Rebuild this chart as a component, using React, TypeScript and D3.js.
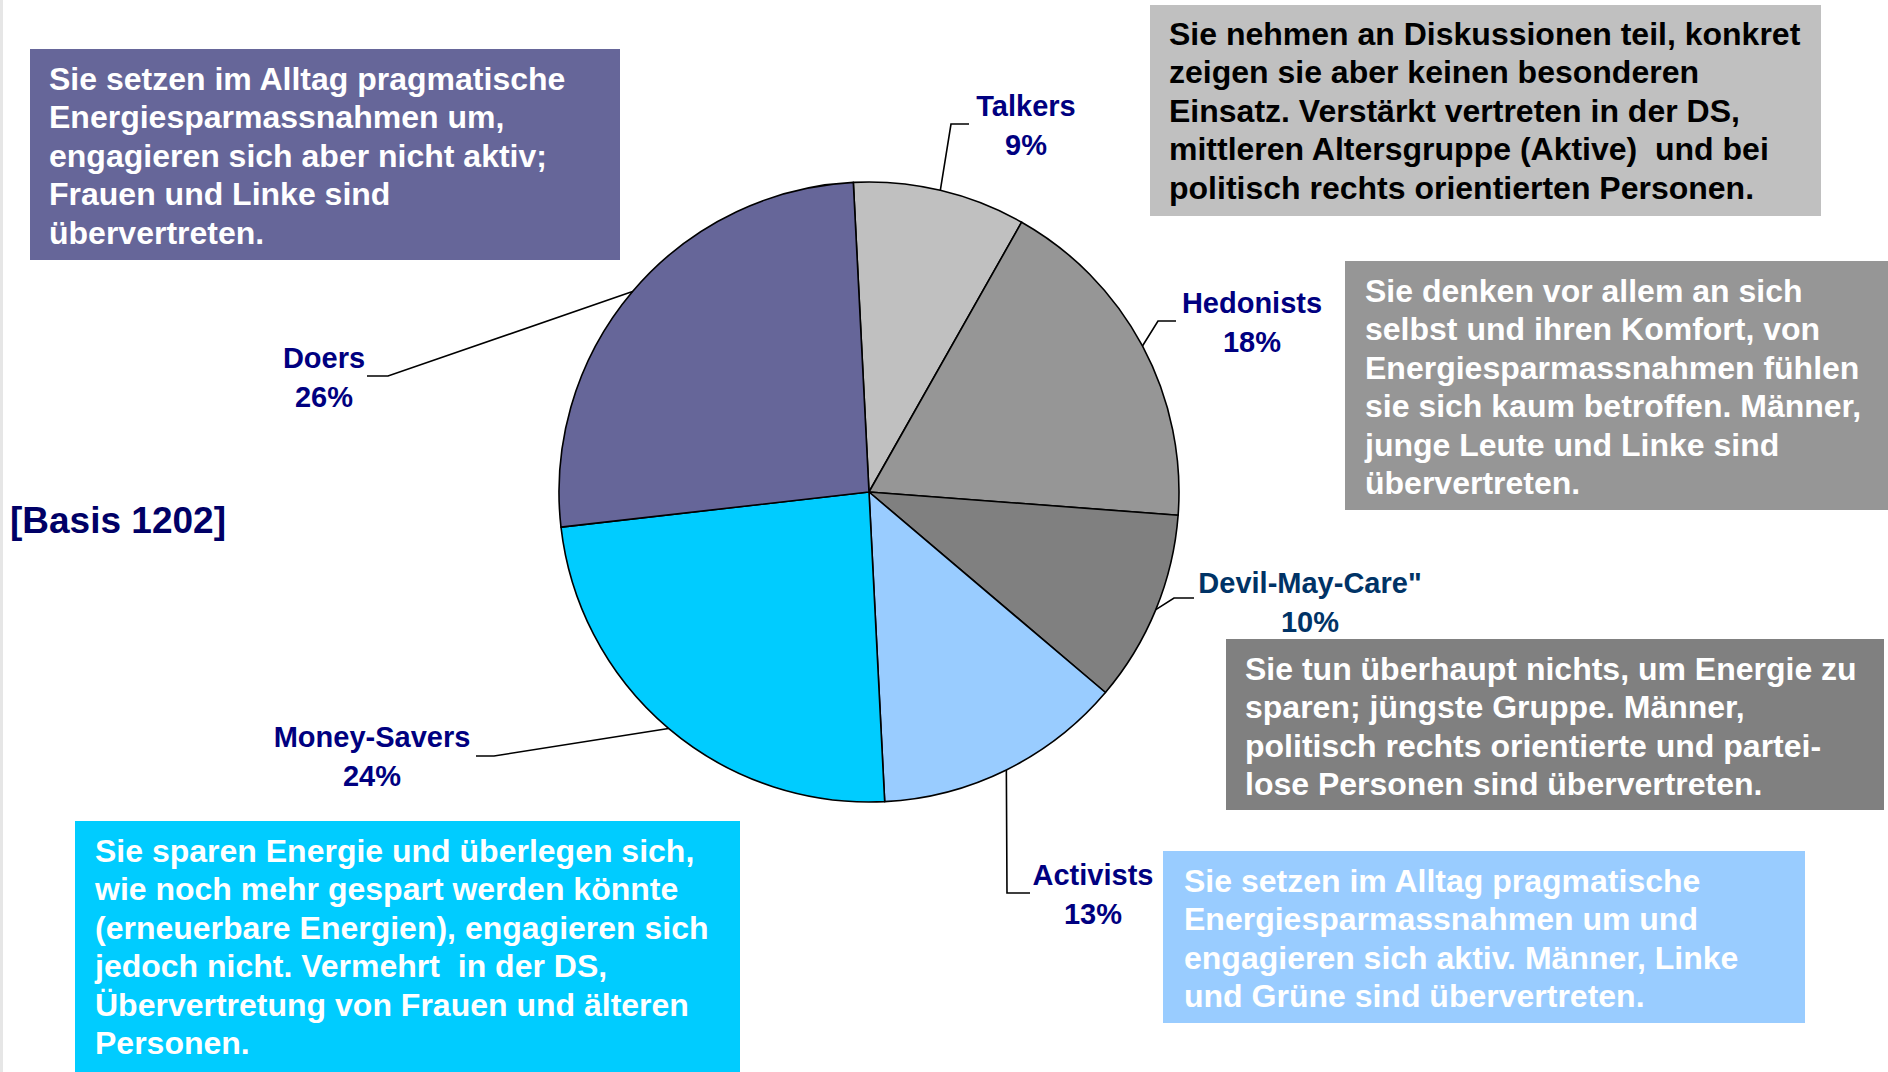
import React from 'react';
import * as d3 from 'd3';

// segment data
const segments = ['Talkers', 'Hedonists', 'Devil-May-Care"', 'Activists', 'Money-Savers', 'Doers'];
const shares = [9, 18, 10, 13, 24, 26];
const sliceColors = ['#C0C0C0', '#969696', '#808080', '#99CCFF', '#00CCFF', '#666699'];
const labelColors = ['#000080', '#000080', '#003366', '#000080', '#000080', '#000080'];

const descriptions = [
  ['Sie nehmen an Diskussionen teil, konkret', 'zeigen sie aber keinen besonderen', 'Einsatz. Verstärkt vertreten in der DS,', 'mittleren Altersgruppe (Aktive)  und bei', 'politisch rechts orientierten Personen.'],
  ['Sie denken vor allem an sich', 'selbst und ihren Komfort, von', 'Energiesparmassnahmen fühlen', 'sie sich kaum betroffen. Männer,', 'junge Leute und Linke sind', 'übervertreten.'],
  ['Sie tun überhaupt nichts, um Energie zu', 'sparen; jüngste Gruppe. Männer,', 'politisch rechts orientierte und partei-', 'lose Personen sind übervertreten.'],
  ['Sie setzen im Alltag pragmatische', 'Energiesparmassnahmen um und', 'engagieren sich aktiv. Männer, Linke', 'und Grüne sind übervertreten.'],
  ['Sie sparen Energie und überlegen sich,', 'wie noch mehr gespart werden könnte', '(erneuerbare Energien), engagieren sich', 'jedoch nicht. Vermehrt  in der DS,', 'Übervertretung von Frauen und älteren', 'Personen.'],
  ['Sie setzen im Alltag pragmatische', 'Energiesparmassnahmen um,', 'engagieren sich aber nicht aktiv;', 'Frauen und Linke sind', 'übervertreten.'],
];
const descTextColors = ['#000000', '#FFFFFF', '#FFFFFF', '#FFFFFF', '#FFFFFF', '#FFFFFF'];
const basisLabel = '[Basis 1202]';

// layout
const W = 1888;
const H = 1072;
const cx = 869;
const cy = 492;
const R = 310;
const FONT = 'Liberation Sans, Arial, sans-serif';

// label anchor (center x, first line center y) and leader elbow/end
const labelLayout = [
  { x: 1026, y: 106, elbow: [951, 124], end: [969, 124] },
  { x: 1252, y: 303, elbow: [1158, 321], end: [1176, 321] },
  { x: 1310, y: 583, elbow: [1174, 598], end: [1194, 598] },
  { x: 1093, y: 875, elbow: [1007, 893], end: [1030, 893] },
  { x: 372, y: 737, elbow: [494, 756], end: [476, 756] },
  { x: 324, y: 358, elbow: [388, 376], end: [367, 376] },
];

const boxLayout = [
  { x: 1150, y: 5, w: 671, h: 211, tx: 1169, ty: 33 },
  { x: 1345, y: 261, w: 543, h: 249, tx: 1365, ty: 290 },
  { x: 1226, y: 639, w: 658, h: 171, tx: 1245, ty: 668 },
  { x: 1163, y: 851, w: 642, h: 172, tx: 1184, ty: 880 },
  { x: 75, y: 821, w: 665, h: 251, tx: 95, ty: 850 },
  { x: 30, y: 49, w: 590, h: 211, tx: 49, ty: 78 },
];

const LINE_H = 38.5;

export default function App() {
  const offset = (-2.9 * Math.PI) / 180;
  const pie = d3.pie<number>().sort(null).startAngle(offset).endAngle(offset + 2 * Math.PI);
  const arcs = pie(shares);
  const arc = d3.arc<d3.PieArcDatum<number>>().innerRadius(0).outerRadius(R);

  return (
    <div style={{ position: 'absolute', left: 0, top: 0 }}>
      <svg width={W} height={H} style={{ display: 'block', background: '#fff' }}>
        <rect x={0} y={0} width={3} height={H} fill="#e6e6e6" />

        {/* description boxes */}
        {boxLayout.map((b, i) => (
          <g key={'box' + i}>
            <rect x={b.x} y={b.y} width={b.w} height={b.h} fill={sliceColors[i]} />
            {descriptions[i].map((line, j) => (
              <text
                key={j}
                x={b.tx}
                y={b.ty + j * LINE_H + 11.5}
                fill={descTextColors[i]}
                fontFamily={FONT}
                fontWeight="bold"
                fontSize={32}
                style={{ whiteSpace: 'pre' }}
              >
                {line}
              </text>
            ))}
          </g>
        ))}

        {/* pie */}
        <g transform={`translate(${cx},${cy})`}>
          {arcs.map((a, i) => (
            <path key={i} d={arc(a) || ''} fill={sliceColors[i]} stroke="#000" strokeWidth={1.6} strokeLinejoin="round" />
          ))}
        </g>

        {/* leader lines and labels */}
        {arcs.map((a, i) => {
          const mid = (a.startAngle + a.endAngle) / 2;
          const sx = cx + R * Math.sin(mid);
          const sy = cy - R * Math.cos(mid);
          const l = labelLayout[i];
          return (
            <g key={'lbl' + i}>
              <polyline
                points={`${sx},${sy} ${l.elbow[0]},${l.elbow[1]} ${l.end[0]},${l.end[1]}`}
                fill="none"
                stroke="#000"
                strokeWidth={1.6}
              />
              <text
                x={l.x}
                textAnchor="middle"
                fill={labelColors[i]}
                fontFamily={FONT}
                fontWeight="bold"
                fontSize={29}
              >
                <tspan x={l.x} y={l.y + 10}>{segments[i]}</tspan>
                <tspan x={l.x} y={l.y + 10 + LINE_H}>{a.data}%</tspan>
              </text>
            </g>
          );
        })}

        <text x={10} y={533} fill="#000066" fontFamily={FONT} fontWeight="bold" fontSize={37}>
          {basisLabel}
        </text>
      </svg>
    </div>
  );
}
